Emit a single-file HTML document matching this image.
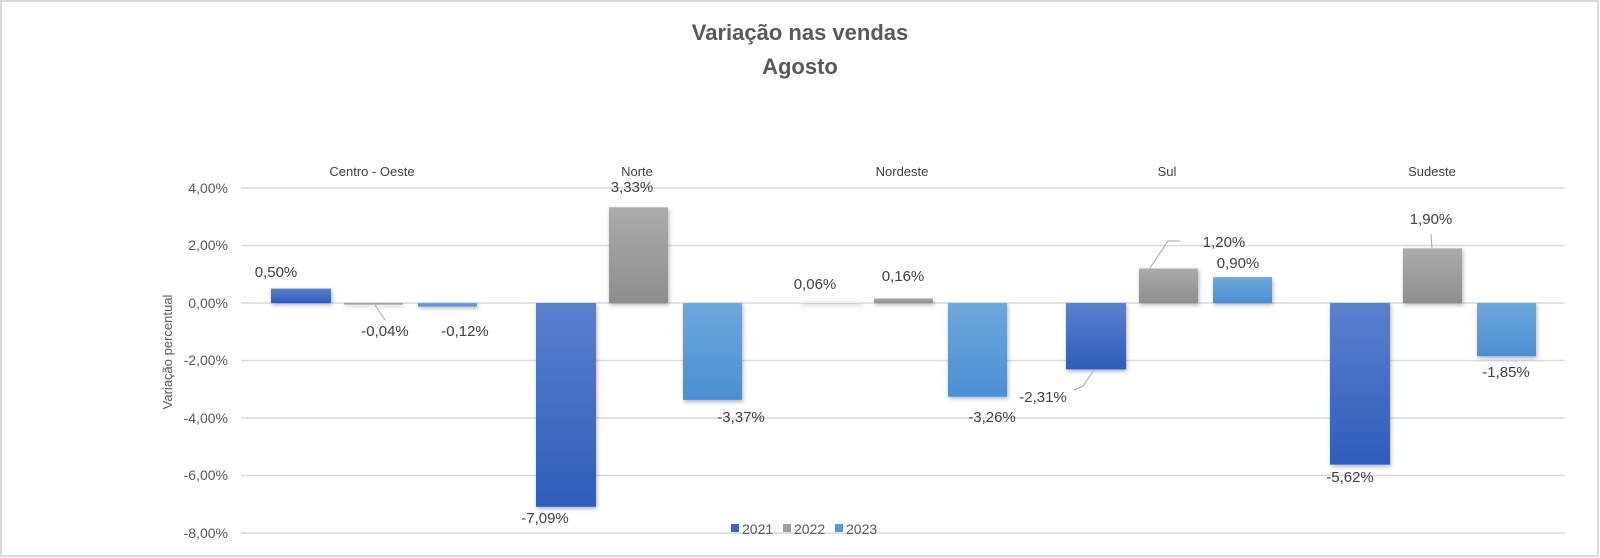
<!DOCTYPE html>
<html><head><meta charset="utf-8"><style>
html,body{margin:0;padding:0;background:#fff;}
svg{display:block;font-family:"Liberation Sans",sans-serif;}
</style></head><body>
<svg width="1600" height="558" viewBox="0 0 1600 558" xmlns="http://www.w3.org/2000/svg">
<defs>
<linearGradient id="g1" x1="0" y1="0" x2="0" y2="1"><stop offset="0" stop-color="#5b80cf"/><stop offset="1" stop-color="#2d5db9"/></linearGradient>
<linearGradient id="g2" x1="0" y1="0" x2="0" y2="1"><stop offset="0" stop-color="#ababab"/><stop offset="1" stop-color="#8e8e8e"/></linearGradient>
<linearGradient id="g3" x1="0" y1="0" x2="0" y2="1"><stop offset="0" stop-color="#6ea8de"/><stop offset="1" stop-color="#4a8fd3"/></linearGradient>
<filter id="sh" x="-20%" y="-20%" width="140%" height="140%"><feDropShadow dx="1" dy="2" stdDeviation="2" flood-color="#000" flood-opacity="0.3"/></filter>
</defs>
<rect x="1" y="1" width="1597" height="555" fill="#fff" stroke="#d9d9d9" stroke-width="2"/>
<text x="800" y="40" text-anchor="middle" font-size="22" font-weight="bold" fill="#595959">Variação nas vendas</text>
<text x="800" y="74" text-anchor="middle" font-size="22" font-weight="bold" fill="#595959">Agosto</text>
<g stroke="#d9d9d9" stroke-width="1.5">
<line x1="241" y1="188" x2="1565" y2="188"/><line x1="241" y1="245.5" x2="1565" y2="245.5"/>
<line x1="241" y1="303" x2="1565" y2="303"/><line x1="241" y1="360.5" x2="1565" y2="360.5"/>
<line x1="241" y1="418" x2="1565" y2="418"/><line x1="241" y1="475.5" x2="1565" y2="475.5"/>
<line x1="241" y1="533" x2="1565" y2="533"/>
</g>
<g font-size="14" fill="#595959" text-anchor="end">
<text x="228" y="193">4,00%</text><text x="228" y="250">2,00%</text><text x="228" y="308">0,00%</text>
<text x="228" y="365">-2,00%</text><text x="228" y="423">-4,00%</text><text x="228" y="480">-6,00%</text><text x="228" y="538">-8,00%</text>
</g>
<text transform="translate(172,352) rotate(-90)" text-anchor="middle" font-size="13" fill="#595959">Variação percentual</text>
<g font-size="13" fill="#404040" text-anchor="middle">
<text x="372" y="176">Centro - Oeste</text><text x="637" y="176">Norte</text><text x="902" y="176">Nordeste</text><text x="1167" y="176">Sul</text><text x="1432" y="176">Sudeste</text>
</g>
<g filter="url(#sh)">
<rect x="271" y="288.6" width="60" height="14.4" fill="url(#g1)"/>
<rect x="344" y="303" width="59" height="1.5" fill="url(#g2)"/>
<rect x="418" y="303" width="59" height="3.5" fill="url(#g3)"/>
<rect x="536" y="303" width="60" height="203.8" fill="url(#g1)"/>
<rect x="609" y="207.3" width="59" height="95.7" fill="url(#g2)"/>
<rect x="683" y="303" width="59" height="96.9" fill="url(#g3)"/>
<rect x="801" y="301.3" width="60" height="1.7" fill="#eef0f6"/>
<rect x="874" y="298.4" width="59" height="4.6" fill="url(#g2)"/>
<rect x="948" y="303" width="59" height="93.7" fill="url(#g3)"/>
<rect x="1066" y="303" width="60" height="66.4" fill="url(#g1)"/>
<rect x="1139" y="268.5" width="59" height="34.5" fill="url(#g2)"/>
<rect x="1213" y="277.1" width="59" height="25.9" fill="url(#g3)"/>
<rect x="1330" y="303" width="60" height="161.6" fill="url(#g1)"/>
<rect x="1403" y="248.4" width="59" height="54.6" fill="url(#g2)"/>
<rect x="1477" y="303" width="59" height="53.2" fill="url(#g3)"/>
</g>
<g stroke="#a6a6a6" stroke-width="1" fill="none">
<polyline points="375,305 385,320"/>
<polyline points="1150,268 1168,241 1180,241"/>
<polyline points="1094,370 1083,386 1074,390"/>
<polyline points="1432,248 1431,234"/>
</g>
<g font-size="15" fill="#404040" text-anchor="middle">
<text x="276" y="277">0,50%</text><text x="385" y="336">-0,04%</text><text x="465" y="336">-0,12%</text>
<text x="545" y="523">-7,09%</text><text x="632" y="192">3,33%</text><text x="741" y="422">-3,37%</text>
<text x="815" y="289">0,06%</text><text x="903" y="281">0,16%</text><text x="992" y="422">-3,26%</text>
<text x="1043" y="402">-2,31%</text><text x="1224" y="247">1,20%</text><text x="1238" y="268">0,90%</text>
<text x="1350" y="482">-5,62%</text><text x="1431" y="224">1,90%</text><text x="1506" y="377">-1,85%</text>
</g>
<rect x="731" y="524" width="8" height="8" fill="#3a66c0"/>
<text x="742" y="534" font-size="14" fill="#595959">2021</text>
<rect x="783" y="524" width="8" height="8" fill="#a0a0a0"/>
<text x="794" y="534" font-size="14" fill="#595959">2022</text>
<rect x="835" y="524" width="8" height="8" fill="#5a9ad8"/>
<text x="846" y="534" font-size="14" fill="#595959">2023</text>
</svg>
</body></html>
